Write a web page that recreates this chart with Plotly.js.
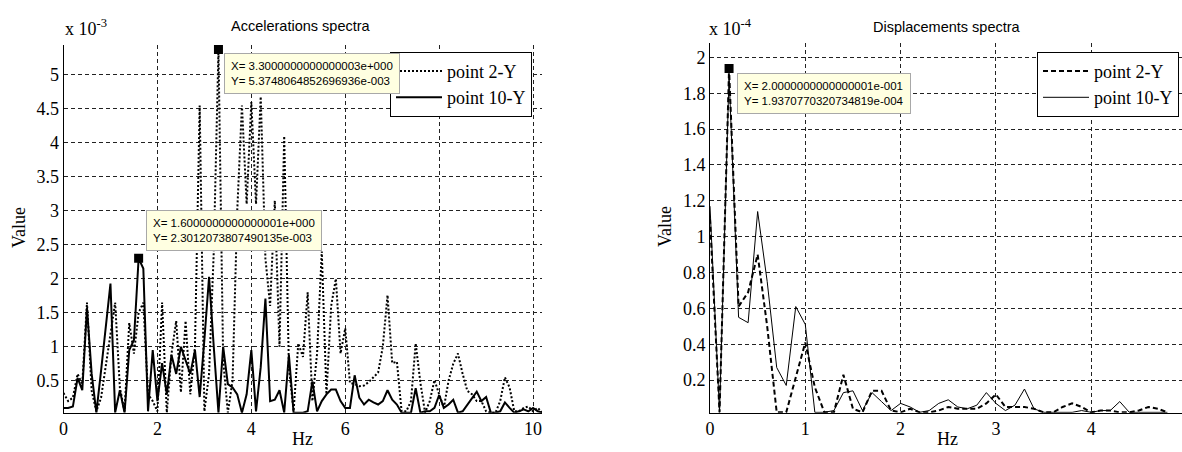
<!DOCTYPE html>
<html>
<head>
<meta charset="utf-8">
<script src="https://cdn.plot.ly/plotly-3.0.1.min.js"></script>
<style>
html,body{margin:0;padding:0;background:#fff;}
#chart{width:1182px;height:452px;}
</style>
</head>
<body>
<div id="chart"></div>
<script>
// ---------- DATA ----------
// Accelerations spectra (values in units of 1e-3)
const freqAcc = [0,0.1,0.2,0.3,0.4,0.5,0.6,0.7,0.8,0.9,1.0,1.1,1.2,1.3,1.4,1.5,1.6,1.7,1.8,1.9,
  2.0,2.1,2.2,2.3,2.4,2.5,2.6,2.7,2.8,2.9,3.0,3.1,3.2,3.3,3.4,3.5,3.6,3.7,3.8,3.9,
  4.0,4.1,4.2,4.3,4.4,4.5,4.6,4.7,4.8,4.9,5.0,5.1,5.2,5.3,5.4,5.5,5.6,5.7,5.8,5.9,
  6.0,6.1,6.2,6.3,6.4,6.5,6.6,6.7,6.8,6.9,7.0,7.1,7.2,7.3,7.4,7.5,7.6,7.7,7.8,7.9,
  8.0,8.1,8.2,8.3,8.4,8.5,8.6,8.7,8.8,8.9,9.0,9.1,9.2,9.3,9.4,9.5,9.6,9.7,9.8,9.9,
  10.0,10.1,10.2];
const accPoint2 = [0.32,0.20,0.25,0.60,0.45,1.65,0.35,0.05,0.25,0.70,1.20,1.65,0.40,0.05,1.35,0.90,1.50,1.65,0.30,0.20,
  0.05,1.65,0.03,0.90,1.38,0.33,1.38,0.30,1.00,4.55,0.05,0.60,2.40,5.3748,0.80,0.03,0.50,3.00,4.55,3.10,
  4.60,3.10,4.68,2.30,1.60,3.15,1.00,4.10,0.70,0.05,1.05,0.85,1.80,0.20,0.90,2.40,0.30,1.60,2.00,0.90,
  1.27,0.47,0.45,0.42,0.43,0.48,0.55,0.62,1.00,1.76,0.76,0.78,0.05,0.05,0.20,1.05,0.47,0.03,0.20,0.51,
  0.30,0.10,0.50,0.75,0.90,0.60,0.35,0.30,0.20,0.20,0.05,0.03,0.03,0.20,0.55,0.40,0.05,0.05,0.10,0.12,
  0.05,0.10,0.03];
const accPoint10 = [0.10,0.10,0.12,0.54,0.36,1.57,0.60,0.03,0.65,1.30,1.93,0.03,0.36,0.03,0.95,1.10,2.3012,2.15,0.05,0.95,
  0.20,0.76,0.30,0.88,0.60,1.00,0.80,0.60,0.95,0.26,1.10,2.03,1.00,0.03,1.00,0.45,0.40,0.30,0.03,0.30,
  0.95,0.05,0.70,1.71,0.20,0.22,0.36,0.03,0.88,0.03,0.03,0.03,0.05,0.49,0.05,0.20,0.30,0.37,0.37,0.20,
  0.10,0.10,0.58,0.25,0.15,0.22,0.18,0.15,0.20,0.36,0.22,0.15,0.03,0.03,0.03,0.39,0.03,0.05,0.05,0.10,
  0.29,0.10,0.15,0.22,0.03,0.05,0.15,0.25,0.34,0.20,0.26,0.03,0.03,0.05,0.18,0.10,0.03,0.05,0.08,0.05,
  0.10,0.05,0.03];
const accTipX = [3.3, 1.6];
const accTipY = [5.3748064852696936, 2.3012073807490135];
const accTipText = [
  "X= 3.3000000000000003e+000<br>Y= 5.3748064852696936e-003",
  "X= 1.6000000000000001e+000<br>Y= 2.3012073807490135e-003"];

// Displacements spectra (values in units of 1e-4)
const freqDisp = [0,0.1,0.2,0.3,0.4,0.5,0.6,0.7,0.8,0.9,1.0,1.1,1.2,1.3,1.4,1.5,1.6,1.7,1.8,1.9,
  2.0,2.1,2.2,2.3,2.4,2.5,2.6,2.7,2.8,2.9,3.0,3.1,3.2,3.3,3.4,3.5,3.6,3.7,3.8,3.9,
  4.0,4.1,4.2,4.3,4.4,4.5,4.6,4.7,4.8];
const dispPoint2 = [1.10,0.02,1.937,0.61,0.69,0.90,0.50,0.02,0.02,0.22,0.41,0.16,0.02,0.02,0.23,0.04,0.02,0.14,0.14,0.03,
  0.02,0.04,0.02,0.02,0.03,0.05,0.04,0.04,0.04,0.07,0.12,0.05,0.05,0.05,0.04,0.02,0.02,0.05,0.07,0.05,
  0.02,0.03,0.03,0.02,0.02,0.03,0.05,0.04,0.02];
const dispPoint10 = [1.17,0.02,1.90,0.55,0.52,1.14,0.75,0.27,0.17,0.61,0.51,0.02,0.02,0.03,0.13,0.14,0.03,0.13,0.08,0.03,
  0.07,0.05,0.02,0.03,0.07,0.09,0.05,0.04,0.06,0.13,0.07,0.03,0.06,0.15,0.04,0.02,0.02,0.02,0.02,0.03,
  0.02,0.03,0.03,0.08,0.02,0.02,0.02,0.02,0.02];
const dispTipX = [0.2];
const dispTipY = [1.9370770320734819];
const dispTipText = ["X= 2.0000000000000001e-001<br>Y= 1.9370770320734819e-004"];

const seriesNames = ["point 2-Y", "point 10-Y"];

// ---------- LAYOUT HELPERS ----------
const W = 1182, H = 452;
const px = v => v / W;
const py = v => 1 - v / H;
const SERIF = "Liberation Serif, Times New Roman, serif";
const SANS = "Liberation Sans, Arial, sans-serif";

const traces = [
  {x: freqAcc, y: accPoint2, type: "scatter", mode: "lines", name: seriesNames[0],
   line: {color: "#000", width: 2, dash: "2px,2px"}, xaxis: "x", yaxis: "y", legend: "legend"},
  {x: freqAcc, y: accPoint10, type: "scatter", mode: "lines", name: seriesNames[1],
   line: {color: "#000", width: 2}, xaxis: "x", yaxis: "y", legend: "legend"},
  {x: accTipX, y: accTipY, type: "scatter", mode: "markers", showlegend: false,
   marker: {symbol: "square", size: 9, color: "#000"}, xaxis: "x", yaxis: "y"},
  {x: freqDisp, y: dispPoint2, type: "scatter", mode: "lines", name: seriesNames[0],
   line: {color: "#000", width: 2, dash: "5px,3px"}, xaxis: "x2", yaxis: "y2", legend: "legend2"},
  {x: freqDisp, y: dispPoint10, type: "scatter", mode: "lines", name: seriesNames[1],
   line: {color: "#000", width: 1}, xaxis: "x2", yaxis: "y2", legend: "legend2"},
  {x: dispTipX, y: dispTipY, type: "scatter", mode: "markers", showlegend: false,
   marker: {symbol: "square", size: 9, color: "#000"}, xaxis: "x2", yaxis: "y2"}
];

const gridStyle = {showgrid: true, gridcolor: "#222", gridwidth: 1, griddash: "4px,3px",
  zeroline: false, showline: true, linecolor: "#000", linewidth: 1, ticks: "",
  tickfont: {family: SERIF, size: 18, color: "#000"}};

const tipAnn = (text, xpx, ypx) => ({
  xref: "paper", yref: "paper", x: px(xpx), y: py(ypx), xanchor: "left", yanchor: "top",
  text: text, showarrow: false, align: "left",
  font: {family: SANS, size: 11.5, color: "#000"},
  bgcolor: "rgb(255,255,225)", bordercolor: "#a8a8a8", borderwidth: 1, borderpad: 6
});
const txtAnn = (text, xpx, ypx, size, fam, extra) => Object.assign({
  xref: "paper", yref: "paper", x: px(xpx), y: py(ypx), xanchor: "center", yanchor: "middle",
  text: text, showarrow: false, font: {family: fam, size: size, color: "#000"}
}, extra || {});

const legendStyle = {xanchor: "left", yanchor: "top", bgcolor: "#fff", bordercolor: "#000",
  borderwidth: 1, itemwidth: 46, tracegroupgap: 0,
  font: {family: SERIF, size: 18, color: "#000"}};

const layout = {
  width: W, height: H,
  margin: {l: 0, r: 0, t: 0, b: 0, autoexpand: false},
  paper_bgcolor: "#fff", plot_bgcolor: "#fff",
  showlegend: true,
  xaxis: Object.assign({}, gridStyle, {domain: [px(63.5), px(542)], range: [0, 10.19],
    tick0: 0, dtick: 2, anchor: "y"}),
  yaxis: Object.assign({}, gridStyle, {domain: [py(412.7), py(45)], range: [0.0294, 5.44],
    tick0: 0, dtick: 0.5, anchor: "x"}),
  xaxis2: Object.assign({}, gridStyle, {domain: [px(710), 1], range: [0, 4.953],
    tick0: 0, dtick: 1, anchor: "y2"}),
  yaxis2: Object.assign({}, gridStyle, {domain: [py(412.7), py(43)], range: [0.018, 2.08],
    tick0: 0, dtick: 0.2, anchor: "x2"}),
  legend: Object.assign({}, legendStyle, {x: px(390), y: py(51.7)}),
  legend2: Object.assign({}, legendStyle, {x: px(1037), y: py(51.7)}),
  annotations: [
    txtAnn("Accelerations spectra", 301, 26, 14.5, SANS),
    txtAnn("Displacements spectra", 947, 27, 14.5, SANS),
    txtAnn("x 10<sup>-3</sup>", 63, 28, 18, SERIF, {xanchor: "left"}),
    txtAnn("x 10<sup>-4</sup>", 707, 28, 18, SERIF, {xanchor: "left"}),
    txtAnn("Value", 19, 227, 18, SERIF, {textangle: -90}),
    txtAnn("Value", 665, 227, 18, SERIF, {textangle: -90}),
    txtAnn("Hz", 302, 439, 18, SERIF),
    txtAnn("Hz", 947, 439, 18, SERIF),
    tipAnn(accTipText[0], 224, 53),
    tipAnn(accTipText[1], 146, 210),
    tipAnn(dispTipText[0], 737, 73)
  ]
};

Plotly.newPlot("chart", traces, layout, {displayModeBar: false, staticPlot: true});
</script>
</body>
</html>
